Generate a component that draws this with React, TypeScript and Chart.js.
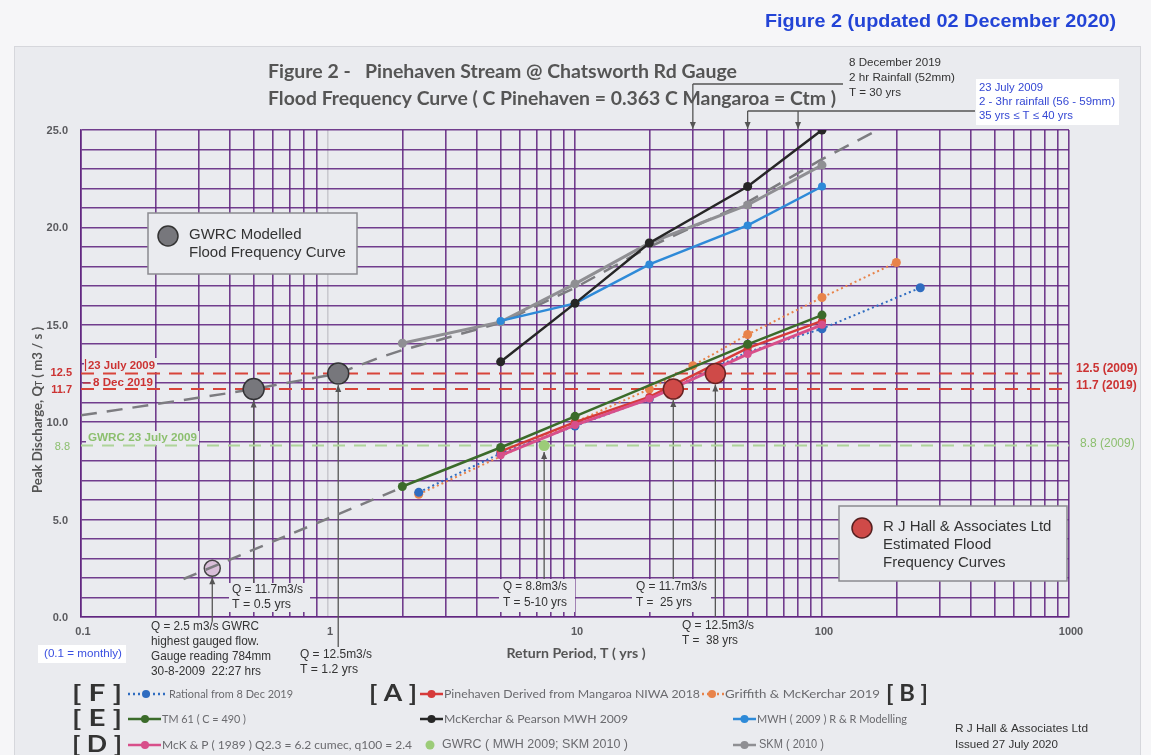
import React, { useEffect, useRef } from 'react';
import { Chart, registerables } from 'chart.js';

Chart.register(...registerables);

const W = 1151;
const H = 755;

// ---------- data (T in years, Q in m3/s) ----------
const rationalT = [2.33, 5, 10, 20, 50, 100, 250];
const rationalQ = [6.4, 8.4, 9.8, 11.2, 13.6, 14.8, 16.9];
const pinehavenT = [5, 10, 20, 50, 100];
const pinehavenQ = [8.5, 10.0, 11.3, 13.8, 15.2];
const griffithT = [2.33, 10, 20, 30, 50, 100, 200];
const griffithQ = [6.3, 10.0, 11.7, 12.9, 14.5, 16.4, 18.2];
const tm61T = [2, 5, 10, 50, 100];
const tm61Q = [6.7, 8.7, 10.3, 14.0, 15.5];
const mckPearsonT = [5, 10, 20, 50, 100];
const mckPearsonQ = [13.1, 16.1, 19.2, 22.1, 25.0];
const mwhT = [5, 10, 20, 50, 100];
const mwhQ = [15.2, 16.1, 18.1, 20.1, 22.1];
const mckp1989T = [5, 10, 20, 50, 100];
const mckp1989Q = [8.3, 9.85, 11.2, 13.5, 15.0];
const gwrcPointT = [7.5];
const gwrcPointQ = [8.8];
const skmT = [2, 5, 10, 20, 50, 100];
const skmQ = [14.05, 15.15, 17.1, 19.2, 21.15, 23.2];
const gwrcCurveT = [0.1, 0.4, 0.5, 1.1, 1.6, 2, 5, 10, 20, 50, 100, 168];
const gwrcCurveQ = [10.35, 11.5, 11.7, 12.5, 13.3, 13.7, 15.1, 16.9, 19.0, 21.3, 23.5, 25.0];
const gwrcLowT = [0.26, 1.87];
const gwrcLowQ = [1.95, 6.5];
const gwrcModelT = [0.5, 1.1];
const gwrcModelQ = [11.7, 12.5];
const gaugedT = [0.34];
const gaugedQ = [2.5];
const rjhT = [25, 37];
const rjhQ = [11.7, 12.5];
const levelQ = [12.5, 11.7, 8.8];
const levelSpan = [0.1, 1000];

// annotation positions (data units)
const bottomArrowT = [0.34, 0.5, 1.1, 7.5, 25, 37];
const bottomArrowQ = [2.5, 11.7, 12.5, 8.8, 11.7, 12.5];
const topArrowT = [30, 50, 80];

// axis ticks
const yTickValues = [0, 5, 10, 15, 20, 25];
const xTickLabels = [0.1, 1, 10, 100, 1000];
const xDecades = [0.1, 1, 10, 100];
const xGridValues: number[] = [];
xDecades.forEach((d) => {
  for (let k = 1; k <= 9; k++) xGridValues.push(+(d * k).toPrecision(3));
});
xGridValues.push(1000);

// ---------- styles ----------
const BG = '#eaebef';
const PURPLE = 'rgba(96,36,128,0.88)';
const SANS = '"Liberation Sans", Arial, sans-serif';
const CAL = 'Lato, "Open Sans", sans-serif';
const RED_TXT = '#cc3333';
const GREEN_TXT = '#8cbf6e';

const pts = (T: number[], Q: number[]) => T.map((t, i) => ({ x: t, y: Q[i] }));

function fitText(ctx: CanvasRenderingContext2D, s: string, x: number, y: number, font: string, color: string, width?: number, align: 'left' | 'center' | 'right' = 'left') {
  ctx.save();
  ctx.font = font;
  ctx.fillStyle = color;
  ctx.textBaseline = 'middle';
  if (width) {
    const m = ctx.measureText(s).width;
    const k = width / m;
    let ox = x;
    if (align === 'center') ox = x - width / 2;
    else if (align === 'right') ox = x - width;
    ctx.translate(ox, y);
    ctx.scale(k, 1);
    ctx.textAlign = 'left';
    ctx.fillText(s, 0, 0);
  } else {
    ctx.textAlign = align;
    ctx.fillText(s, x, y);
  }
  ctx.restore();
}

function box(ctx: CanvasRenderingContext2D, x0: number, y0: number, x1: number, y1: number, fill: string, stroke?: string) {
  ctx.save();
  ctx.fillStyle = fill;
  ctx.fillRect(x0, y0, x1 - x0, y1 - y0);
  if (stroke) {
    ctx.strokeStyle = stroke;
    ctx.lineWidth = 1.5;
    ctx.strokeRect(x0, y0, x1 - x0, y1 - y0);
  }
  ctx.restore();
}

function arrowV(ctx: CanvasRenderingContext2D, x: number, yFrom: number, yTip: number) {
  ctx.save();
  ctx.strokeStyle = '#555';
  ctx.fillStyle = '#555';
  ctx.lineWidth = 1.3;
  ctx.beginPath();
  ctx.moveTo(x, yFrom);
  ctx.lineTo(x, yTip);
  ctx.stroke();
  const dir = yTip < yFrom ? 1 : -1;
  ctx.beginPath();
  ctx.moveTo(x, yTip);
  ctx.lineTo(x - 3, yTip + dir * 7);
  ctx.lineTo(x + 3, yTip + dir * 7);
  ctx.closePath();
  ctx.fill();
  ctx.restore();
}

function line(ctx: CanvasRenderingContext2D, x0: number, y0: number, x1: number, y1: number, color: string, w = 1.3, dash: number[] = []) {
  ctx.save();
  ctx.strokeStyle = color;
  ctx.lineWidth = w;
  ctx.setLineDash(dash);
  ctx.beginPath();
  ctx.moveTo(x0, y0);
  ctx.lineTo(x1, y1);
  ctx.stroke();
  ctx.restore();
}

function dot(ctx: CanvasRenderingContext2D, x: number, y: number, r: number, fill: string, stroke?: string) {
  ctx.save();
  ctx.fillStyle = fill;
  ctx.beginPath();
  ctx.arc(x, y, r, 0, Math.PI * 2);
  ctx.fill();
  if (stroke) {
    ctx.strokeStyle = stroke;
    ctx.lineWidth = 1.5;
    ctx.stroke();
  }
  ctx.restore();
}

function legendMarker(ctx: CanvasRenderingContext2D, x0: number, x1: number, y: number, color: string, dotted: boolean, dx?: number) {
  line(ctx, x0, y, x1, y, color, 2.5, dotted ? [2, 3] : []);
  dot(ctx, dx ?? (x0 + x1) / 2, y, 4, color);
}

const decor = {
  id: 'decor',
  beforeDraw(chart: any) {
    const ctx = chart.ctx as CanvasRenderingContext2D;
    ctx.save();
    ctx.fillStyle = '#f6f6f8';
    ctx.fillRect(0, 0, W, H);
    ctx.fillStyle = BG;
    ctx.fillRect(14, 46, 1126, H - 46);
    ctx.strokeStyle = '#d6d7dc';
    ctx.lineWidth = 1;
    ctx.strokeRect(14.5, 46.5, 1126, H);
    ctx.restore();
  },
  beforeDatasetsDraw(chart: any) {
    const ctx = chart.ctx as CanvasRenderingContext2D;
    const xs = chart.scales.x;
    const ys = chart.scales.y;
    const area = chart.chartArea;
    const X = (v: number) => xs.getPixelForValue(v);
    const Y = (v: number) => ys.getPixelForValue(v);

    // label background boxes inside the plot
    box(ctx, 229, 583, 310, 612, BG);
    box(ctx, 499, 579, 575, 612, BG);
    box(ctx, 632, 579, 711, 612, BG);
    box(ctx, 84, 358, 157, 372, BG);
    box(ctx, 90, 376, 155, 389, BG);
    box(ctx, 86, 431, 199, 445, BG);

    // legend boxes
    box(ctx, 148, 213, 357, 274, BG, '#8b8b90');
    dot(ctx, 168, 236, 10, '#77777c', '#333');
    fitText(ctx, 'GWRC Modelled', 189, 235, `15px ${SANS}`, '#333');
    fitText(ctx, 'Flood Frequency Curve', 189, 253, `15px ${SANS}`, '#333');

    box(ctx, 839, 506, 1067, 581, BG, '#8b8b90');
    dot(ctx, 862, 528, 10, '#cf4a48', '#552020');
    fitText(ctx, 'R J Hall & Associates Ltd', 883, 527, `15px ${SANS}`, '#333');
    fitText(ctx, 'Estimated Flood', 883, 545, `15px ${SANS}`, '#333');
    fitText(ctx, 'Frequency Curves', 883, 563, `15px ${SANS}`, '#333');

    // bottom arrows
    const fromY = [621, 583, 647, 579, 579, 617];
    const radii = [8, 10.5, 10.5, 5.5, 10, 10];
    bottomArrowT.forEach((t, i) => {
      arrowV(ctx, X(t), fromY[i], Y(bottomArrowQ[i]) + radii[i] + 1);
    });

    // top arrows
    const tx0 = X(topArrowT[0]);
    line(ctx, tx0, 84, 843, 84, '#555');
    arrowV(ctx, tx0, 84, area.top - 1);
    const tx1 = X(topArrowT[1]);
    const tx2 = X(topArrowT[2]);
    line(ctx, tx1, 111, 975, 111, '#555');
    arrowV(ctx, tx1, 111, area.top - 1);
    arrowV(ctx, tx2, 111, area.top - 1);

    // labels near level lines (left)
    line(ctx, 85.5, 359, 85.5, 371, RED_TXT, 1.2);
    fitText(ctx, '23 July 2009', 88, 366, `bold 11px ${SANS}`, RED_TXT, 67);
    line(ctx, 83, 383, 91, 383, RED_TXT, 1.2);
    fitText(ctx, '8 Dec 2019', 93, 382.5, `bold 11px ${SANS}`, RED_TXT, 60);
    fitText(ctx, 'GWRC 23 July 2009', 88, 438, `bold 11px ${SANS}`, GREEN_TXT, 109);
  },
  afterDraw(chart: any) {
    const ctx = chart.ctx as CanvasRenderingContext2D;
    const xs = chart.scales.x;
    const ys = chart.scales.y;
    const X = (v: number) => xs.getPixelForValue(v);
    const Y = (v: number) => ys.getPixelForValue(v);

    // header
    fitText(ctx, 'Figure 2 (updated 02 December 2020)', 765, 22, `bold 18px ${SANS}`, '#2344d6', 351);
    fitText(ctx, 'Figure 2 -   Pinehaven Stream @ Chatsworth Rd Gauge', 268, 72, `bold 18px ${CAL}`, '#555', 469);
    fitText(ctx, 'Flood Frequency Curve ( C Pinehaven = 0.363 C Mangaroa = Ctm )', 268, 99, `bold 18px ${CAL}`, '#555', 568);

    fitText(ctx, '8 December 2019', 849, 63, `11px ${SANS}`, '#333', 92);
    fitText(ctx, '2 hr Rainfall (52mm)', 849, 78, `11px ${SANS}`, '#333', 106);
    fitText(ctx, 'T = 30 yrs', 849, 93, `11px ${SANS}`, '#333', 52);

    box(ctx, 976, 79, 1119, 125, '#ffffff');
    fitText(ctx, '23 July 2009', 979, 88, `11px ${SANS}`, '#3548d4', 64);
    fitText(ctx, '2 - 3hr rainfall (56 - 59mm)', 979, 102, `11px ${SANS}`, '#3548d4', 136);
    fitText(ctx, '35 yrs \u2264 T \u2264 40 yrs', 979, 116, `11px ${SANS}`, '#3548d4', 94);

    // y tick labels
    yTickValues.forEach((v) => {
      fitText(ctx, v.toFixed(1), 68, Y(v) + 1, `bold 11px ${SANS}`, '#5a5a5e', undefined, 'right');
    });
    // level tick labels
    fitText(ctx, levelQ[0].toFixed(1), 72, Y(levelQ[0]) - 1, `bold 11px ${SANS}`, RED_TXT, undefined, 'right');
    fitText(ctx, levelQ[1].toFixed(1), 72, Y(levelQ[1]) + 1, `bold 11px ${SANS}`, RED_TXT, undefined, 'right');
    fitText(ctx, levelQ[2].toFixed(1), 70, Y(levelQ[2]) + 1, `11px ${SANS}`, GREEN_TXT, undefined, 'right');
    // right level labels
    fitText(ctx, `${levelQ[0].toFixed(1)} (2009)`, 1076, Y(levelQ[0]) - 5, `bold 12px ${SANS}`, RED_TXT);
    fitText(ctx, `${levelQ[1].toFixed(1)} (2019)`, 1076, Y(levelQ[1]) - 3, `bold 12px ${SANS}`, RED_TXT);
    fitText(ctx, `${levelQ[2].toFixed(1)} (2009)`, 1080, Y(levelQ[2]) - 2, `12px ${SANS}`, GREEN_TXT);

    // x tick labels
    xTickLabels.forEach((v) => {
      fitText(ctx, String(v), X(v) + 2, 632, `bold 11px ${SANS}`, '#5a5a5e', undefined, 'center');
    });

    // axis titles
    fitText(ctx, 'Return Period, T ( yrs )', 576, 653, `bold 14px ${CAL}`, '#555', 139, 'center');
    ctx.save();
    ctx.translate(37, 410);
    ctx.rotate(-Math.PI / 2);
    ctx.fillStyle = '#555';
    ctx.textBaseline = 'middle';
    const p1 = 'Peak Discharge, Q';
    const p2 = 'T';
    const p3 = ' ( m3 / s )';
    ctx.font = `bold 14px ${CAL}`;
    const w1 = ctx.measureText(p1).width;
    const w3 = ctx.measureText(p3).width;
    ctx.font = `bold 9px ${CAL}`;
    const w2 = ctx.measureText(p2).width;
    const tot = w1 + w2 + w3;
    const k = 166 / tot;
    ctx.scale(k, 1);
    let cx = -tot / 2;
    ctx.font = `bold 14px ${CAL}`;
    ctx.fillText(p1, cx, 0);
    cx += w1;
    ctx.font = `bold 9px ${CAL}`;
    ctx.fillText(p2, cx, 2);
    cx += w2;
    ctx.font = `bold 14px ${CAL}`;
    ctx.fillText(p3, cx, 0);
    ctx.restore();

    // bottom annotation text
    box(ctx, 38, 645, 126, 663, '#ffffff');
    fitText(ctx, '(0.1 = monthly)', 44, 654, `11px ${SANS}`, '#3a4fe0', 78);

    const ann = `12px ${SANS}`;
    const ac = '#333';
    fitText(ctx, 'Q = 2.5 m3/s GWRC', 151, 627, ann, ac, 108);
    fitText(ctx, 'highest gauged flow.', 151, 642, ann, ac, 108);
    fitText(ctx, 'Gauge reading 784mm', 151, 657, ann, ac, 120);
    fitText(ctx, '30-8-2009  22:27 hrs', 151, 672, ann, ac, 110);
    fitText(ctx, 'Q = 11.7m3/s', 232, 590, ann, ac, 71);
    fitText(ctx, 'T = 0.5 yrs', 232, 605, ann, ac, 59);
    fitText(ctx, 'Q = 12.5m3/s', 300, 655, ann, ac, 72);
    fitText(ctx, 'T = 1.2 yrs', 300, 670, ann, ac, 58);
    fitText(ctx, 'Q = 8.8m3/s', 503, 587, ann, ac, 64);
    fitText(ctx, 'T = 5-10 yrs', 503, 603, ann, ac, 64);
    fitText(ctx, 'Q = 11.7m3/s', 636, 587, ann, ac, 71);
    fitText(ctx, 'T =  25 yrs', 636, 603, ann, ac, 56);
    fitText(ctx, 'Q = 12.5m3/s', 682, 626, ann, ac, 72);
    fitText(ctx, 'T =  38 yrs', 682, 641, ann, ac, 56);

    // bottom legend
    const lg = `12px ${CAL}`;
    const lc = '#6a6a6e';
    const br = `bold 22px ${CAL}`;
    const bc = '#333';
    const r1 = 694;
    const r2 = 719;
    const r3 = 745;
    fitText(ctx, '[ F ]', 72, r1, br, bc, 50);
    legendMarker(ctx, 128, 166, r1, '#2f6cc0', true, 146);
    fitText(ctx, 'Rational from 8 Dec 2019', 169, r1, lg, lc, 124);
    fitText(ctx, '[ A ]', 369, r1, br, bc, 48);
    legendMarker(ctx, 420, 443, r1, '#d63a3a', false);
    fitText(ctx, 'Pinehaven Derived from Mangaroa NIWA 2018', 444, r1, lg, lc, 256);
    legendMarker(ctx, 702, 724, r1, '#e8834a', true, 712);
    fitText(ctx, 'Griffith & McKerchar 2019', 725, r1, lg, lc, 155);
    fitText(ctx, '[ B ]', 886, r1, br, bc, 42);

    fitText(ctx, '[ E ]', 72, r2, br, bc, 50);
    legendMarker(ctx, 128, 161, r2, '#3b6b2a', false, 145);
    fitText(ctx, 'TM 61 ( C = 490 )', 162, r2, lg, lc, 84);
    legendMarker(ctx, 420, 443, r2, '#262626', false);
    fitText(ctx, 'McKerchar & Pearson MWH 2009', 444, r2, lg, lc, 184);
    legendMarker(ctx, 733, 756, r2, '#2e8ad8', false);
    fitText(ctx, 'MWH ( 2009 ) R & R Modelling', 757, r2, lg, lc, 150);

    fitText(ctx, '[ D ]', 72, r3, br, bc, 50);
    legendMarker(ctx, 128, 161, r3, '#d84f8a', false, 145);
    fitText(ctx, 'McK & P ( 1989 ) Q2.3 = 6.2 cumec, q100 = 2.4', 162, r3, lg, lc, 250);
    dot(ctx, 430, r3, 4.5, '#9ccc78');
    fitText(ctx, 'GWRC ( MWH 2009; SKM 2010 )', 442, r3, `12px ${SANS}`, lc, 186);
    legendMarker(ctx, 733, 756, r3, '#8f8f93', false);
    fitText(ctx, 'SKM ( 2010 )', 759, r3, `12px ${SANS}`, lc, 65);

    fitText(ctx, 'R J Hall & Associates Ltd', 955, 729, `11px ${SANS}`, '#333', 133);
    fitText(ctx, 'Issued 27 July 2020', 955, 745, `11px ${SANS}`, '#333', 103);
  },
};

export default function App() {
  const ref = useRef<HTMLCanvasElement | null>(null);

  useEffect(() => {
    if (!ref.current) return;
    const series = (label: string, T: number[], Q: number[], color: string, opts: any = {}) => ({
      type: 'line',
      label,
      data: pts(T, Q),
      borderColor: color,
      backgroundColor: color,
      pointBackgroundColor: color,
      pointBorderColor: color,
      borderWidth: 2.5,
      pointRadius: 4,
      pointBorderWidth: 0,
      tension: 0,
      ...opts,
    });
    const chart = new Chart(ref.current, {
      type: 'line',
      data: {
        datasets: [
          series('R J Hall estimates', rjhT, rjhQ, '#cf4a48', { showLine: false, pointRadius: 10, pointBorderColor: '#6a2222', pointBorderWidth: 1.5, order: 0 }),
          series('GWRC modelled', gwrcModelT, gwrcModelQ, '#77777c', { showLine: false, pointRadius: 10.5, pointBorderColor: '#333336', pointBorderWidth: 1.5, order: 1 }),
          series('GWRC curve (lower)', gwrcLowT, gwrcLowQ, '#7c7c80', { pointRadius: 0, borderDash: [14, 10], borderWidth: 2.5, order: 2 }),
          series('Highest gauged flow', gaugedT, gaugedQ, '#d9bfd9', { showLine: false, pointRadius: 8, pointBorderColor: '#444', pointBorderWidth: 1.5, order: 3 }),
          series('GWRC ( MWH 2009; SKM 2010 )', gwrcPointT, gwrcPointQ, '#9ccc78', { showLine: false, pointRadius: 5.5, order: 4 }),
          series('McKerchar & Pearson MWH 2009', mckPearsonT, mckPearsonQ, '#262626', { pointRadius: 4.5, order: 5 }),
          series('MWH ( 2009 ) R & R Modelling', mwhT, mwhQ, '#2e8ad8', { order: 6 }),
          series('SKM ( 2010 )', skmT, skmQ, '#8f8f93', { borderWidth: 3, pointRadius: 4.5, order: 7 }),
          series('TM 61 ( C = 490 )', tm61T, tm61Q, '#3b6b2a', { pointRadius: 4.5, order: 8 }),
          series('McK & P ( 1989 )', mckp1989T, mckp1989Q, '#d84f8a', { borderWidth: 3, order: 9 }),
          series('Pinehaven Derived from Mangaroa NIWA 2018', pinehavenT, pinehavenQ, '#d63a3a', { order: 10 }),
          series('Rational from 8 Dec 2019', rationalT, rationalQ, '#2f6cc0', { borderDash: [2, 3], borderWidth: 2, pointRadius: 4.5, order: 11 }),
          series('Griffith & McKerchar 2019', griffithT, griffithQ, '#e8834a', { borderDash: [2, 3], borderWidth: 2, pointRadius: 4.5, order: 12 }),
          series('GWRC Modelled Flood Frequency Curve', gwrcCurveT, gwrcCurveQ, '#7c7c80', { pointRadius: 0, borderDash: [16, 10], borderWidth: 2.5, order: 13 }),
          series('12.5 (2009)', levelSpan, [levelQ[0], levelQ[0]], '#d8453a', { pointRadius: 0, borderDash: [13, 9], borderWidth: 2, order: 14 }),
          series('11.7 (2019)', levelSpan, [levelQ[1], levelQ[1]], '#d8453a', { pointRadius: 0, borderDash: [13, 9], borderWidth: 2, order: 15 }),
          series('8.8 (2009)', levelSpan, [levelQ[2], levelQ[2]], '#aed49a', { pointRadius: 0, borderDash: [12, 9], borderWidth: 2, order: 16 }),
        ] as any,
      },
      options: {
        animation: false,
        responsive: false,
        maintainAspectRatio: false,
        layout: { padding: { left: 81, top: 130, right: W - 1069, bottom: H - 617 } },
        plugins: {
          legend: { display: false },
          tooltip: { enabled: false },
          title: { display: false },
        },
        scales: {
          x: {
            type: 'logarithmic',
            min: 0.1,
            max: 1000,
            afterBuildTicks: (scale: any) => {
              scale.ticks = xGridValues.map((v) => ({ value: v }));
            },
            ticks: { display: false },
            grid: {
              drawTicks: false,
              lineWidth: 1.6,
              color: (c: any) => (c.tick && Math.abs(c.tick.value - 1) < 1e-9 ? '#c9c9cf' : PURPLE),
            },
            border: { display: true, color: PURPLE, width: 1.6 },
          },
          y: {
            type: 'linear',
            min: 0,
            max: 25,
            ticks: { display: false, stepSize: 1 },
            grid: { drawTicks: false, lineWidth: 1.6, color: PURPLE },
            border: { display: true, color: PURPLE, width: 1.6 },
          },
        },
      } as any,
      plugins: [decor],
    });
    return () => chart.destroy();
  }, []);

  return (
    <div style={{ position: 'absolute', left: 0, top: 0, width: W, height: H, background: '#f6f6f8' }}>
      <canvas ref={ref} width={W} height={H} style={{ width: W, height: H, display: 'block' }} />
    </div>
  );
}
